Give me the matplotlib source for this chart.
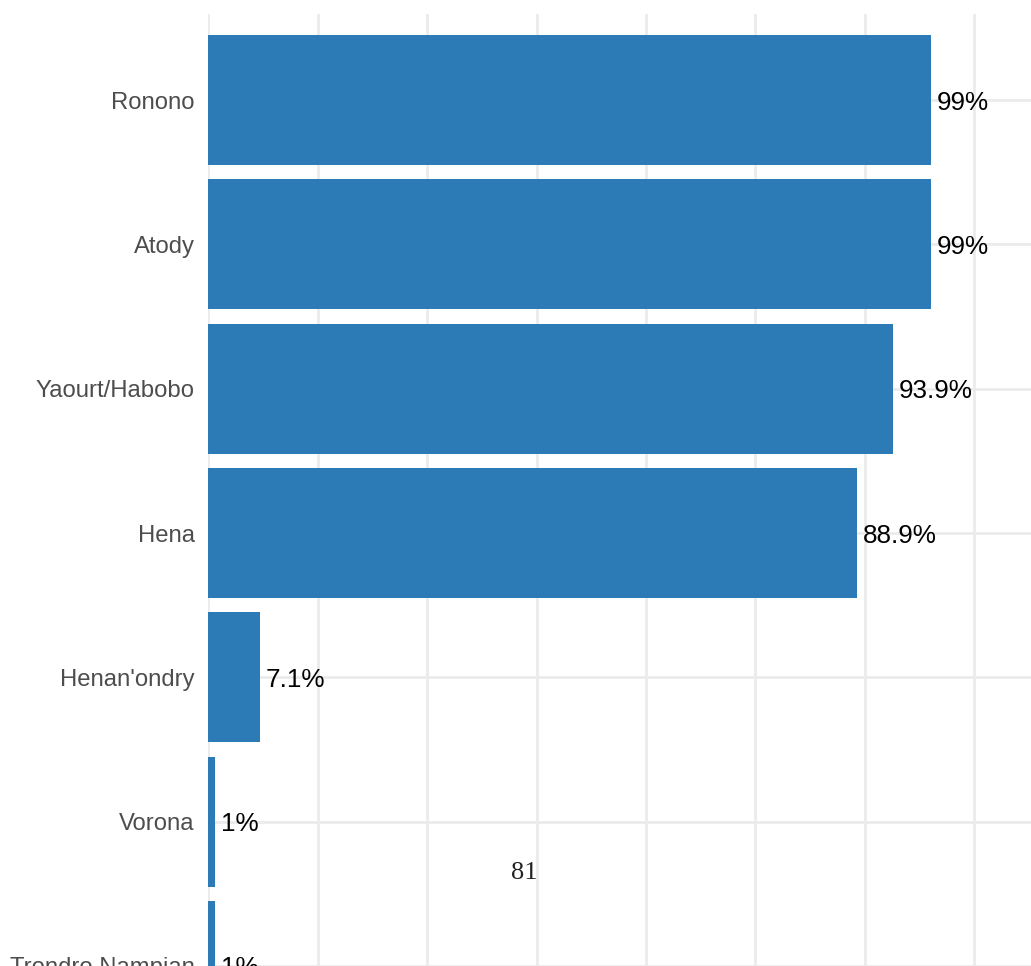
import matplotlib.pyplot as plt

categories = ["Ronono", "Atody", "Yaourt/Habobo", "Hena", "Henan'ondry", "Vorona", "Trondro Nampian"]
values = [99, 99, 93.9, 88.9, 7.1, 1, 1]
value_labels = ["99%", "99%", "93.9%", "88.9%", "7.1%", "1%", "1%"]

BAR_COLOR = "#2c7bb6"
GRID_COLOR = "#ebebeb"

plt.rcParams['font.family'] = ['Liberation Sans', 'DejaVu Sans']

W, H = 1031, 966
fig = plt.figure(figsize=(W / 100, H / 100), dpi=100)

# panel: left edge at x=208, top at y=13, runs off the right and bottom of the picture
top = 13.5
ax = fig.add_axes([208 / W, 0, 1 - 208 / W, 1 - top / H])
ax.set_xlim(0, (W - 208) / 7.3)
ax.set_ylim(-0.6 + (H - top) / 145.0, -0.6)

pos = list(range(len(categories)))
ax.barh(pos, values, height=0.9, color=BAR_COLOR, zorder=2)

for p, v, lab in zip(pos, values, value_labels):
    ax.annotate(lab, (v, p), xytext=(4, 0), textcoords="offset points",
                ha="left", va="center_baseline", fontsize=18.8, color="black", zorder=3)

ax.set_yticks(pos)
ax.set_yticklabels(categories, fontsize=17.2, color="#4d4d4d")
ax.set_xticks(range(0, 120, 15))
ax.set_xticklabels([])
ax.tick_params(length=0, pad=9.5)
ax.grid(True, color=GRID_COLOR, linewidth=2, zorder=0)
ax.set_axisbelow(True)
for s in ax.spines.values():
    s.set_visible(False)

fig.text(524 / W, 1 - 873 / H, "81", ha="center", va="center",
         fontsize=19, family="Liberation Serif", color="#222222")

fig.savefig("out.png", dpi=100)
